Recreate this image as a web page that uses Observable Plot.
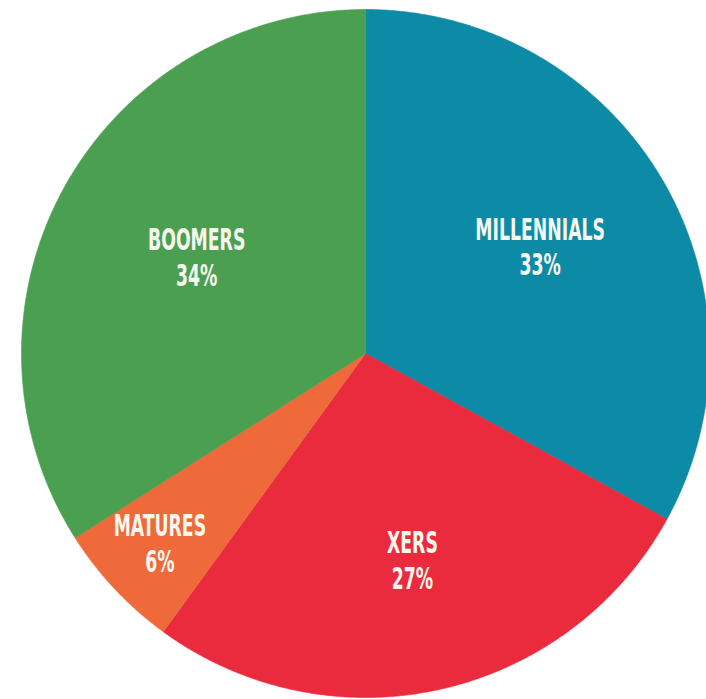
<!DOCTYPE html>
<html><head><meta charset="utf-8">
<script src="https://cdn.jsdelivr.net/npm/d3@7"></script>
<script src="https://cdn.jsdelivr.net/npm/@observablehq/plot@0.6"></script>
<style>body{margin:0;background:#fff;overflow:hidden}</style>
</head><body><div id="chart"></div>
<script>
const categories = ["Millennials", "Xers", "Matures", "Boomers"];
const labels = ["MILLENNIALS", "XERS", "MATURES", "BOOMERS"];
const shares = [33, 27, 6, 34];
const colors = ["#0d8aa5", "#ea2a3d", "#ee6a3a", "#4b9f50"];

// layout: label distance from centre as a fraction of the radius
const labelRadius = [0.59, 0.625, 0.82, 0.56];

const arcs = d3.pie().sort(null).value(d => d)(shares);
const pts = [];
arcs.forEach((s, i) => {
  const n = Math.max(2, Math.ceil((s.endAngle - s.startAngle) / 0.005));
  pts.push({cat: categories[i], x: 0, y: 0});
  for (let k = 0; k <= n; k++) {
    const a = s.startAngle + (s.endAngle - s.startAngle) * k / n;
    pts.push({cat: categories[i], x: Math.sin(a), y: Math.cos(a)});
  }
  pts.push({cat: categories[i], x: 0, y: 0});
});
const lab = arcs.map((s, i) => {
  const a = (s.startAngle + s.endAngle) / 2;
  return {x: labelRadius[i] * Math.sin(a), y: labelRadius[i] * Math.cos(a), text: labels[i] + "\n" + shares[i] + "%"};
});

const chart = Plot.plot({
  width: 706, height: 699,
  marginLeft: 21, marginRight: -3, marginTop: 9, marginBottom: 2,
  x: {domain: [-1, 1], axis: null},
  y: {domain: [-1, 1], axis: null},
  color: {domain: categories, range: colors},
  marks: [
    Plot.line(pts, {x: "x", y: "y", z: "cat", fill: "cat", stroke: "cat", strokeWidth: 0.6, curve: "linear"}),
    Plot.text(lab, {x: "x", y: "y", text: "text", fill: "#f7f7ef", fontSize: 31, fontWeight: "bold", dy: -4,
      fontFamily: "'DejaVu Sans Condensed', 'Liberation Sans Narrow', sans-serif", lineHeight: 1.15})
  ]
});
chart.querySelectorAll("text").forEach(t => {
  const tr = t.getAttribute("transform") || "";
  t.setAttribute("transform", tr + " scale(0.62,1)");
});
document.getElementById("chart").appendChild(chart);
</script>
</body></html>
